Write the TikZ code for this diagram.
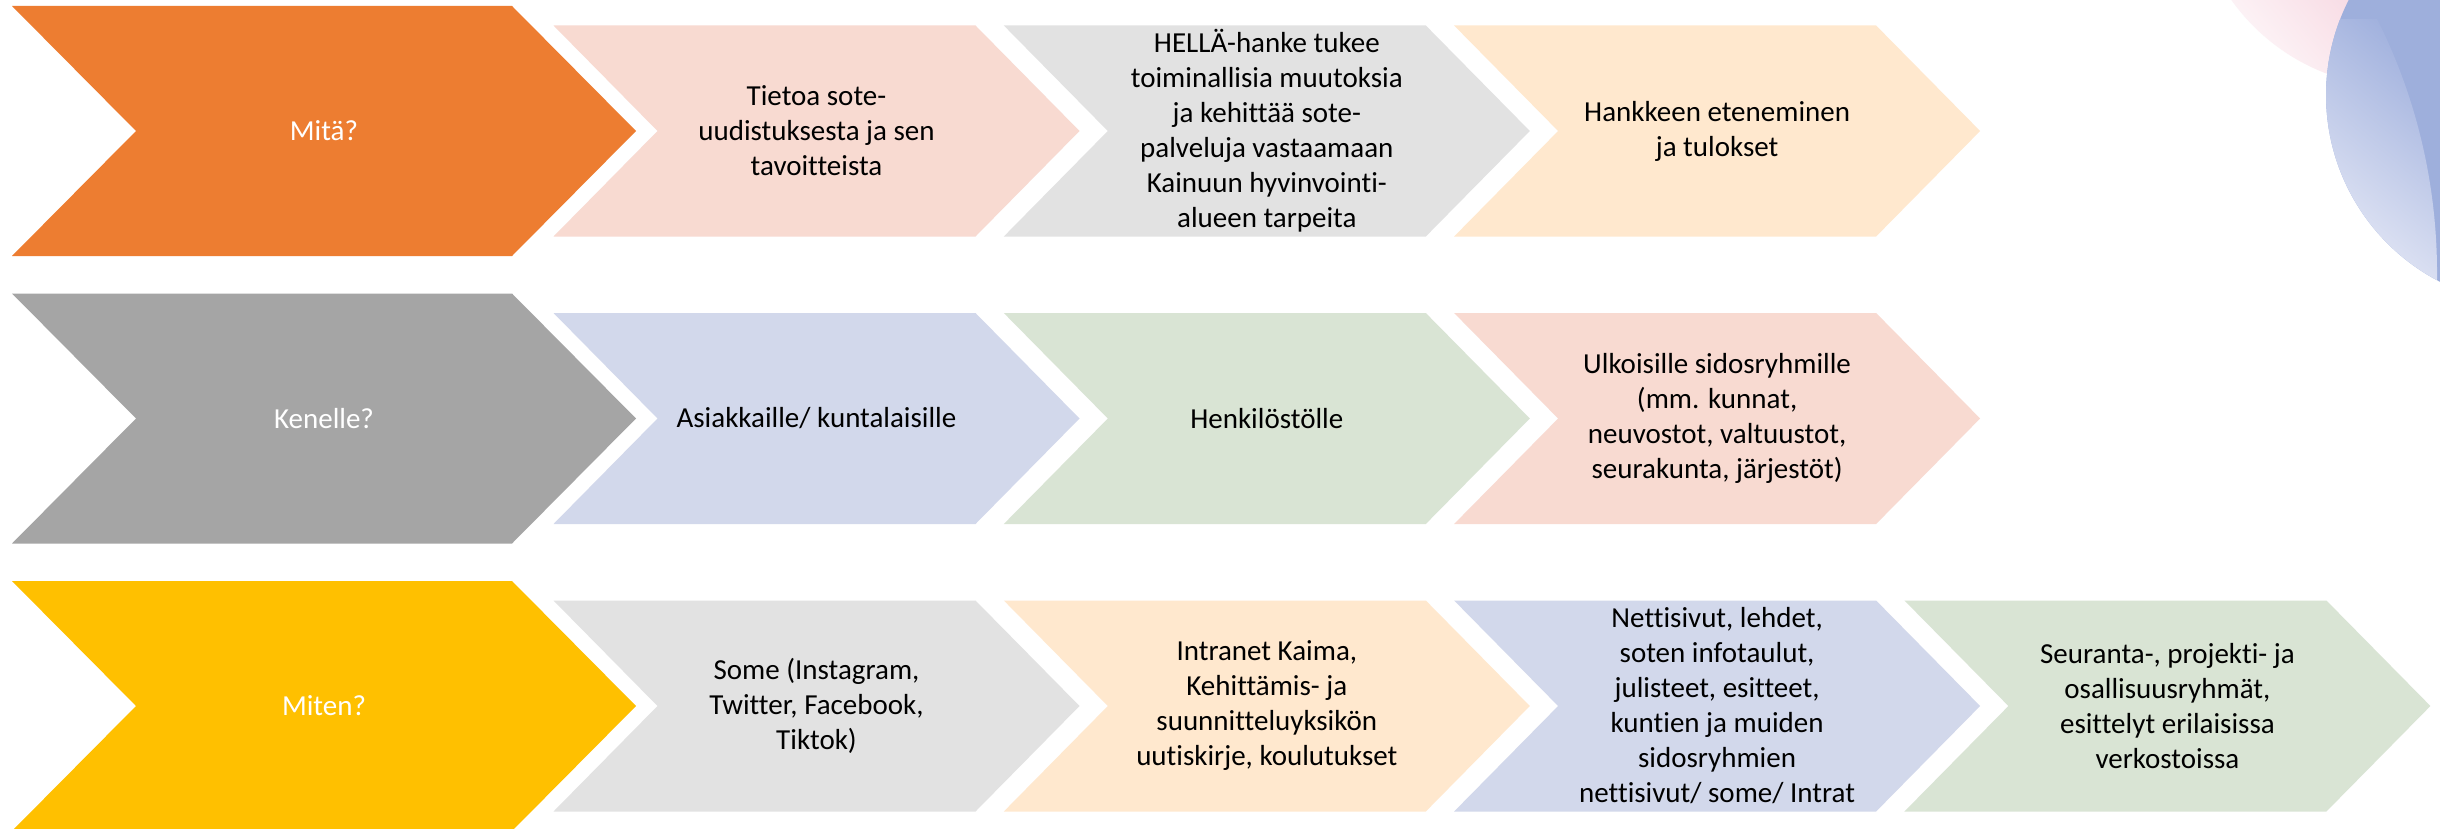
\documentclass[tikz,border=0pt]{standalone}
\usepackage{fontspec}
\setmainfont{Carlito}[Ligatures=CommonOff]
\definecolor{corange}{HTML}{ED7D31}
\definecolor{cgray}{HTML}{A5A5A5}
\definecolor{cyellow}{HTML}{FFC000}
\definecolor{lpink}{HTML}{F8DAD1}
\definecolor{lgray}{HTML}{E2E2E2}
\definecolor{lpeach}{HTML}{FFE8CE}
\definecolor{lblue}{HTML}{D2D8EB}
\definecolor{lgreen}{HTML}{D9E4D4}
\definecolor{decopink}{HTML}{F6D3DE}
\definecolor{decoblueA}{HTML}{E6E9F6}
\definecolor{decoblueB}{HTML}{9EAFDC}
\definecolor{decoblueC}{HTML}{A2B2DE}
% #1 left, #2 tip, #3 depth, #4 mid y, #5 half height, #6 colour
\newcommand{\mychev}[6]{%
  \fill[#6] (#1,#4-#5) -- (#2-#3,#4-#5) -- (#2,#4) -- (#2-#3,#4+#5)
    -- (#1,#4+#5) -- (#1+#3,#4) -- cycle;}
\tikzset{
  txt/.style={align=center, font=\fontsize{29}{35}\selectfont, text=black, inner sep=0pt},
  wtxt/.style={txt, text=white}
}
\begin{document}
\begin{tikzpicture}[x=1pt,y=-1pt]
\useasboundingbox (0,0) rectangle (2440,829);
\fill[white] (0,0) rectangle (2440,829);
% decoration top right
\begin{scope}
  \clip (2400,-120) circle (207);
  \shade[bottom color=white, top color=decopink, shading angle=-50] (2190,-10) rectangle (2440,100);
\end{scope}
\begin{scope}
  \clip (2536,95) circle (210);
  \fill[decoblueB] (2320,-10) rectangle (2440,320);
  \clip (1870,273) circle (567);
  \shade[bottom color=decoblueA, top color=decoblueC, shading angle=-40] (2320,20) rectangle (2440,290);
\end{scope}
% big chevrons
\mychev{12}{636}{124}{131}{125}{corange}
\mychev{12}{636}{124}{418.5}{125}{cgray}
\mychev{12}{636}{124}{706}{125}{cyellow}
\node[wtxt] (mita) at (324,131) {Mitä?};
\node[wtxt] (kenelle) at (324,418.5) {Kenelle?};
\node[wtxt] (miten) at (324,706) {Miten?};
% row 1
\mychev{553.5}{1079.5}{104}{131}{105.5}{lpink}
\mychev{1003.8}{1529.8}{104}{131}{105.5}{lgray}
\mychev{1454.1}{1980.1}{104}{131}{105.5}{lpeach}
\node[txt] (a1) at (816.5,131) {Tietoa sote-\\uudistuksesta ja sen\\tavoitteista};
\node[txt] (a2) at (1266.8,131) {HELLÄ-hanke tukee\\toiminallisia muutoksia\\ja kehittää sote-\\palveluja vastaamaan\\Kainuun hyvinvointi-\\alueen tarpeita};
\node[txt] (a3) at (1717.1,131) {Hankkeen eteneminen\\ja tulokset};
% row 2
\mychev{553.5}{1079.5}{104}{418.5}{105.5}{lblue}
\mychev{1003.8}{1529.8}{104}{418.5}{105.5}{lgreen}
\mychev{1454.1}{1980.1}{104}{418.5}{105.5}{lpink}
\node[txt] (b1) at (816.5,418.5) {Asiakkaille/ kuntalaisille};
\node[txt] (b2) at (1266.8,418.5) {Henkilöstölle};
\node[txt] (b3) at (1717.1,418.5) {Ulkoisille sidosryhmille\\(mm. kunnat,\\neuvostot, valtuustot,\\seurakunta, järjestöt)};
% row 3
\mychev{553.5}{1079.5}{104}{706}{105.5}{lgray}
\mychev{1003.8}{1529.8}{104}{706}{105.5}{lpeach}
\mychev{1454.1}{1980.1}{104}{706}{105.5}{lblue}
\mychev{1904.4}{2430.4}{104}{706}{105.5}{lgreen}
\node[txt] (c1) at (816.5,706) {Some (Instagram,\\Twitter, Facebook,\\Tiktok)};
\node[txt] (c2) at (1266.8,706) {Intranet Kaima,\\Kehittämis- ja\\suunnitteluyksikön\\uutiskirje, koulutukset};
\node[txt] (c3) at (1717.1,706) {Nettisivut, lehdet,\\soten infotaulut,\\julisteet, esitteet,\\kuntien ja muiden\\sidosryhmien\\nettisivut/ some/ Intrat};
\node[txt] (c4) at (2167.4,706) {Seuranta-, projekti- ja\\osallisuusryhmät,\\esittelyt erilaisissa\\verkostoissa};
\end{tikzpicture}
\end{document}
